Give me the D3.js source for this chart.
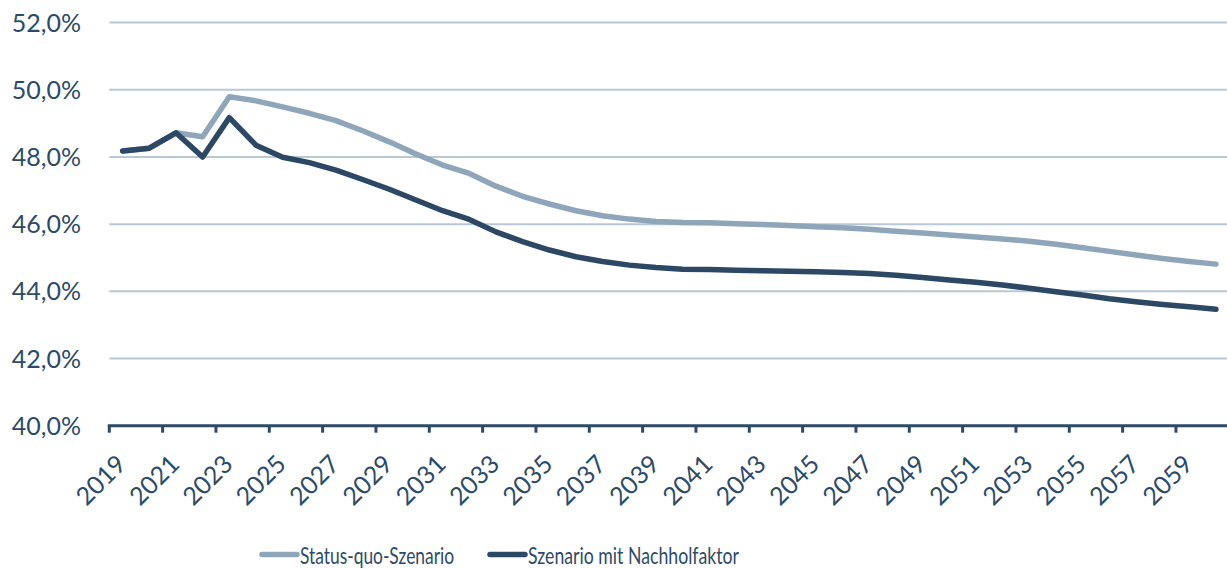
<!DOCTYPE html>
<html>
<head>
<meta charset="utf-8">
<script src="https://cdn.jsdelivr.net/npm/d3@7"></script>
<style>
  body { margin: 0; background: #fff; }
  text { font-family: Lato, "Open Sans", sans-serif; fill: #2d4a66; }
</style>
</head>
<body>
<svg id="chart" width="1227" height="569"></svg>
<script>
// years on the category axis
var years = d3.range(2019, 2061);

// Status-quo-Szenario (share in %)
var statusQuo = [48.18, 48.26, 48.72, 48.60, 49.79, 49.67, 49.49, 49.30, 49.08, 48.78,
                 48.45, 48.09, 47.76, 47.51, 47.13, 46.83, 46.60, 46.40, 46.25, 46.15,
                 46.08, 46.05, 46.04, 46.01, 45.99, 45.96, 45.92, 45.89, 45.85, 45.79,
                 45.74, 45.68, 45.62, 45.56, 45.49, 45.40, 45.30, 45.19, 45.08, 44.98,
                 44.89, 44.81];

// Szenario mit Nachholfaktor
var nachholfaktor = [48.18, 48.26, 48.72, 48.00, 49.17, 48.35, 47.99, 47.83, 47.61, 47.33,
                     47.04, 46.72, 46.40, 46.14, 45.77, 45.48, 45.23, 45.03, 44.89, 44.78,
                     44.71, 44.66, 44.65, 44.63, 44.61, 44.60, 44.58, 44.56, 44.53, 44.48,
                     44.41, 44.34, 44.27, 44.19, 44.09, 43.99, 43.89, 43.78, 43.69, 43.61,
                     43.54, 43.47];

var yTicks = [40, 42, 44, 46, 48, 50, 52];
var seriesNames = ["Status-quo-Szenario", "Szenario mit Nachholfaktor"];
var seriesColors = ["#8fa5ba", "#2c4864"];

//////////////////////
// Layout
//////////////////////
var svg = d3.select("#chart");
var plotLeft = 109.3, plotRight = 1229.3, plotTop = 22.6, plotBottom = 425.7;

var x = d3.scaleBand().domain(years).range([plotLeft, plotRight]);
var y = d3.scaleLinear().domain([40, 52]).range([plotBottom, plotTop]);
var fmt = function (v) { return d3.format(".1f")(v).replace(".", ",") + "%"; };

// gridlines
svg.append("g").selectAll("line")
    .data(yTicks.filter(function (d) { return d > 40; }))
    .enter().append("line")
        .attr("x1", plotLeft).attr("x2", 1227)
        .attr("y1", function (d) { return y(d); })
        .attr("y2", function (d) { return y(d); })
        .attr("stroke", "#b9c8d6")
        .attr("stroke-width", 2);

// y labels
svg.append("g").selectAll("text")
    .data(yTicks)
    .enter().append("text")
        .attr("x", 81)
        .attr("y", function (d) { return y(d) + 9; })
        .attr("text-anchor", "end")
        .style("font-size", "25px")
        .text(fmt);

// lines
var line = d3.line()
    .x(function (d, i) { return x(years[i]) + x.bandwidth() / 2; })
    .y(function (d) { return y(d); });

[statusQuo, nachholfaktor].forEach(function (s, k) {
    svg.append("path")
        .datum(s)
        .attr("d", line)
        .attr("fill", "none")
        .attr("stroke", seriesColors[k])
        .attr("stroke-width", 5.5)
        .attr("stroke-linejoin", "round")
        .attr("stroke-linecap", "round");
});

// x axis line + ticks at every second category boundary
var labelYears = years.filter(function (d, i) { return i % 2 === 0; });
var axis = svg.append("g");
axis.append("line")
    .attr("x1", plotLeft - 1.5).attr("x2", 1227)
    .attr("y1", plotBottom).attr("y2", plotBottom)
    .attr("stroke", "#2d4a66").attr("stroke-width", 3);
axis.selectAll(".tick")
    .data(labelYears)
    .enter().append("line")
        .attr("class", "tick")
        .attr("x1", function (d) { return x(d); })
        .attr("x2", function (d) { return x(d); })
        .attr("y1", plotBottom).attr("y2", plotBottom + 7)
        .attr("stroke", "#2d4a66").attr("stroke-width", 3);

// x labels
svg.append("g").attr("transform", "translate(0," + plotBottom + ")")
    .call(d3.axisBottom(x).tickValues(labelYears).tickSize(0))
    .call(function (g) { g.select(".domain").remove(); })
    .selectAll("text")
        .attr("x", 0).attr("y", 0).attr("dy", null)
        .attr("text-anchor", "end")
        .attr("transform", "translate(5,40) rotate(-45)")
        .style("font-size", "25px")
        .style("font-family", "Lato, 'Open Sans', sans-serif")
        .attr("fill", "#2d4a66");

// legend
var legendX = [262, 490];
var legendW = [154, 211];
var legend = svg.append("g");
seriesNames.forEach(function (name, k) {
    legend.append("line")
        .attr("x1", legendX[k]).attr("x2", legendX[k] + 35)
        .attr("y1", 554.5).attr("y2", 554.5)
        .attr("stroke", seriesColors[k]).attr("stroke-width", 5.5)
        .attr("stroke-linecap", "round");
    legend.append("text")
        .attr("x", legendX[k] + 38)
        .attr("y", 563.5)
        .attr("textLength", legendW[k])
        .attr("lengthAdjust", "spacingAndGlyphs")
        .style("font-size", "24px")
        .text(name);
});
</script>
</body>
</html>
